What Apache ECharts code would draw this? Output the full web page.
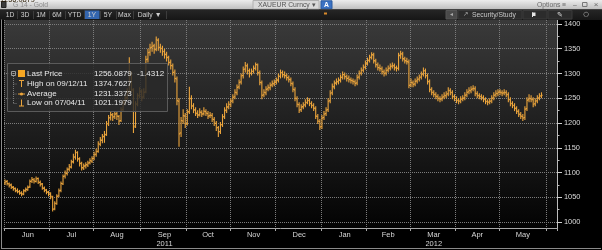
<!DOCTYPE html>
<html><head><meta charset="utf-8">
<script src="https://cdn.jsdelivr.net/npm/echarts@6/dist/echarts.min.js"></script>
<style>html,body{margin:0;padding:0;background:#000;overflow:hidden}#c{width:602px;height:250px}</style>
</head><body><div id="c"></div>
<script>
// ---------------- DATA ----------------
const startDate = '2011-06-01';
const endDate = '2012-06-07';      // axis runs a few days past the last bar
const open = [
 1079,1082,1077,1075,1070,1068,1063,1062,1058,1056,1064,1065,1071,1083,1085,1082,1088,1080,1077,1068,1065,1060,
 1056,1050,1027,1037,1053,1064,1077,1093,1098,1107,1111,1122,1131,1140,1127,1119,1109,1114,1115,1120,1123,
 1129,1137,1143,1157,1165,1173,1177,1199,1211,1216,1213,1219,1213,1205,1227,1242,1251,1263,1298,1266,1194,1239,1256,
 1263,1253,1263,1329,1343,1353,1356,1349,1367,1353,1351,1345,1339,1333,1323,1315,1303,1289,1244,1180,1204,1214,
 1199,1223,1249,1234,1227,1219,1217,1221,1219,1223,1219,1215,1215,1207,1199,1191,1183,1197,1213,1225,1233,
 1237,1245,1253,1261,1273,1283,1296,1309,1315,1305,1301,1305,1311,1317,1301,1281,1257,1261,1269,1271,1277,1279,
 1283,1287,1295,1301,1297,1295,1291,1287,1279,1267,1249,1237,1227,1233,1237,1241,1245,1239,1235,1229,1213,1203,
 1193,1211,1219,1227,1245,1261,1273,1281,1283,1287,1293,1297,1293,1291,1287,1285,1283,1281,1293,1301,1307,1313,
 1321,1327,1333,1337,1325,1317,1311,1309,1303,1301,1307,1311,1315,1315,1311,1311,1337,1339,1329,1325,1323,
 1277,1281,1279,1285,1289,1293,1299,1305,1295,1283,1267,1261,1257,1253,1249,1249,1253,1255,1259,1265,1261,1253,
 1249,1245,1245,1249,1251,1257,1263,1265,1269,1269,1259,1255,1253,1251,1247,1243,1243,1245,1251,1257,1259,
 1263,1261,1261,1261,1257,1247,1239,1235,1229,1223,1217,1213,1211,1229,1247,1249,1247,1239,1245,1251,1255
];
const high = [
 1086,1085,1080,1078,1073,1070,1068,1065,1062,1066,1070,1074,1086,1091,1089,1092,1090,1084,1079,1072,1067,1063,
 1060,1053,1042,1056,1068,1082,1096,1104,1110,1117,1126,1138,1146,1143,1131,1122,1118,1121,1124,1129,1133,
 1142,1148,1163,1172,1178,1184,1204,1216,1224,1220,1224,1222,1216,1232,1246,1256,1270,1333,1304,1270,1244,1260,1272,
 1268,1270,1336,1350,1360,1364,1360,1374.76,1371,1360,1356,1350,1344,1336,1328,1320,1308,1294,1250,1212,1228,1220,
 1228,1273,1256,1240,1232,1226,1230,1226,1232,1228,1224,1222,1220,1212,1204,1194,1202,1218,1232,1240,1244,
 1250,1258,1268,1278,1288,1300,1314,1323,1320,1310,1310,1316,1322,1320,1306,1286,1268,1274,1278,1282,1286,1288,
 1292,1300,1308,1306,1304,1300,1296,1292,1284,1272,1254,1242,1238,1242,1248,1252,1250,1244,1240,1234,1218,1208,
 1216,1224,1232,1250,1266,1280,1286,1290,1292,1298,1304,1302,1298,1296,1292,1290,1288,1298,1306,1312,1318,1326,
 1332,1338,1343,1342,1330,1322,1318,1314,1308,1312,1316,1320,1322,1320,1316,1342,1346,1344,1334,1332,1328,
 1290,1286,1290,1294,1298,1304,1312,1310,1300,1288,1272,1266,1262,1258,1254,1258,1262,1264,1272,1270,1266,1258,
 1254,1250,1254,1256,1262,1268,1272,1274,1276,1274,1264,1260,1258,1256,1252,1248,1250,1256,1262,1266,1268,
 1268,1266,1268,1266,1262,1252,1244,1240,1234,1228,1222,1218,1234,1252,1258,1256,1252,1250,1256,1260,1262
];
const low = [
 1075,1074,1070,1067,1063,1060,1058,1055,1052,1054,1060,1063,1069,1079,1078,1080,1077,1072,1065,1060,1056,1052,
 1046,1021.2,1024,1035,1050,1060,1075,1088,1094,1102,1108,1118,1126,1122,1112,1104,1105,1108,1111,1116,1119,
 1125,1132,1140,1153,1159,1160,1174,1194,1205,1204,1208,1206,1196,1202,1222,1236,1247,1258,1262,1180,1190,1234,1250,
 1244,1249,1260,1322,1336,1344,1340,1345,1346,1342,1336,1330,1324,1316,1308,1296,1282,1236,1152,1172,1198,1190,
 1195,1218,1228,1220,1214,1210,1213,1212,1215,1214,1208,1210,1202,1194,1184,1172,1178,1192,1208,1220,1228,
 1232,1240,1248,1256,1268,1278,1290,1302,1298,1292,1296,1300,1306,1296,1276,1248,1252,1256,1264,1266,1272,1274,
 1278,1282,1290,1292,1290,1286,1282,1274,1262,1244,1232,1220,1222,1228,1232,1238,1234,1230,1224,1208,1198,1186,
 1188,1206,1214,1222,1240,1256,1268,1276,1278,1282,1288,1288,1284,1282,1280,1278,1274,1276,1288,1296,1302,1308,
 1316,1322,1328,1320,1312,1306,1304,1298,1294,1296,1302,1306,1310,1306,1304,1306,1330,1324,1320,1318,1270,
 1272,1272,1274,1280,1284,1288,1294,1290,1278,1262,1256,1252,1248,1244,1242,1244,1248,1250,1254,1256,1248,1244,
 1240,1238,1240,1244,1246,1252,1258,1260,1264,1254,1250,1248,1246,1242,1238,1236,1238,1240,1246,1252,1254,
 1256,1254,1256,1252,1242,1234,1230,1224,1218,1212,1208,1204,1206,1224,1242,1242,1232,1234,1240,1246,1250
];
const close = [
 1081,1078,1074,1071,1067,1064,1061,1059,1057,1063,1066,1070,1082,1086,1083,1087,1081,1076,1069,1064,1061,1057,
 1052,1026,1038,1052,1063,1078,1092,1099,1106,1112,1121,1132,1141,1128,1118,1110,1113,1116,1119,1124,1128,
 1136,1142,1158,1166,1172,1176,1198,1210,1217,1212,1218,1214,1204,1226,1241,1250,1262,1300,1268,1192,1238,1255,1264,
 1252,1262,1328,1342,1352,1355,1348,1368,1352,1350,1344,1338,1332,1322,1316,1302,1290,1245,1178,1205,1215,1198,
 1222,1250,1235,1226,1220,1216,1222,1218,1224,1220,1214,1216,1208,1200,1190,1182,1196,1212,1226,1232,1238,
 1244,1252,1262,1272,1282,1295,1308,1316,1306,1300,1304,1310,1318,1302,1282,1256,1262,1268,1272,1276,1280,1282,
 1286,1294,1302,1298,1296,1292,1288,1280,1268,1250,1238,1226,1232,1236,1242,1246,1240,1236,1230,1214,1204,1192,
 1210,1218,1226,1244,1260,1274,1280,1284,1286,1292,1298,1294,1290,1288,1286,1284,1280,1292,1300,1306,1312,1320,
 1326,1332,1338,1326,1318,1312,1310,1304,1300,1306,1310,1314,1316,1312,1310,1336,1340,1330,1326,1324,1276,
 1282,1278,1284,1288,1292,1298,1306,1296,1284,1268,1262,1258,1254,1250,1248,1252,1256,1258,1266,1262,1254,1250,
 1246,1244,1248,1250,1256,1262,1266,1268,1270,1260,1256,1254,1252,1248,1244,1242,1244,1250,1256,1260,1262,
 1262,1260,1262,1258,1248,1240,1236,1230,1224,1218,1214,1210,1228,1246,1250,1248,1238,1244,1250,1254,1256.09
];
const monthNames = ['Jan','Feb','Mar','Apr','May','Jun','Jul','Aug','Sep','Oct','Nov','Dec'];
const labelledMonths = ['2011-06','2011-07','2011-08','2011-09','2011-10','2011-11','2011-12',
                        '2012-01','2012-02','2012-03','2012-04','2012-05'];
const yearLabels = {'2011-09':'2011','2012-03':'2012'};
const yTickValues = [1000,1050,1100,1150,1200,1250,1300,1350,1400];
const yMinorTickValues = [1025,1075,1125,1175,1225,1275,1325,1375];
const periodButtons = ['1D','3D','1M','6M','YTD','1Y','5Y','Max','Daily \u25BC'];
const activeButton = '1Y';
const titleText = 'G 14 - Gold';
const tickerText = 'XAUEUR Curncy \u25BE';
const lastPriceText = '1256.0879';
const legendRows = [
  {label:'Last Price', value:'1256.0879', change:'-1.4312', icon:'square'},
  {label:'High on 09/12/11', value:'1374.7627', change:'', icon:'high'},
  {label:'Average', value:'1231.3373', change:'', icon:'avg'},
  {label:'Low on 07/04/11', value:'1021.1979', change:'', icon:'low'}
];

// ---------------- BUILD ----------------
const dates = [];
for (let d = new Date(startDate + 'T00:00:00Z'); d <= new Date(endDate + 'T00:00:00Z'); d.setUTCDate(d.getUTCDate() + 1)) {
  const wd = d.getUTCDay();
  if (wd === 0 || wd === 6) continue;
  dates.push(d.toISOString().slice(0, 10));
}
const monthStart = new Set();
const monthIdx = {};
dates.forEach((ds, i) => {
  const k = ds.slice(0, 7);
  if (!monthIdx[k]) { monthIdx[k] = []; monthStart.add(i); }
  monthIdx[k].push(i);
});
const labelAt = {};
labelledMonths.forEach(k => {
  const arr = monthIdx[k];
  const mid = arr[Math.floor(arr.length / 2)];
  const m = monthNames[parseInt(k.slice(5, 7), 10) - 1];
  labelAt[mid] = yearLabels[k] ? m + '\n' + yearLabels[k] : m;
});
const ohlc = close.map((c, i) => [i, open[i], high[i], low[i], c]);

const FONT = 'Liberation Sans, Arial, sans-serif';
const BAR = '#eca53c';
const GRIDC = '#7c7c7c';
const chart = echarts.init(document.getElementById('c'), null, {renderer: 'canvas'});

const option = {
  animation: false,
  backgroundColor: '#000',
  grid: {
    left: 4, right: 45, top: 20, bottom: 22, show: true, borderWidth: 0,
    containLabel: false, outerBoundsMode: 'none',
    backgroundColor: {type: 'linear', x: 0, y: 0, x2: 0, y2: 1,
      colorStops: [{offset: 0, color: '#3a3a3a'}, {offset: 0.5, color: '#1f1f1f'}, {offset: 1, color: '#030303'}]}
  },
  xAxis: {
    type: 'category', data: dates, boundaryGap: true,
    axisLine: {show: true, lineStyle: {color: '#a8a8a8', width: 1}},
    axisTick: {show: true, interval: (i) => monthStart.has(i), length: 3, lineStyle: {color: '#a8a8a8'}},
    axisLabel: {
      interval: (i) => labelAt[i] !== undefined,
      formatter: (v, i) => labelAt[i] || '',
      color: '#d6d6d6', fontSize: 7.5, fontFamily: FONT, margin: 3, lineHeight: 8.5
    },
    splitLine: {show: true, interval: (i) => monthStart.has(i), lineStyle: {color: GRIDC, type: [1, 1], width: 1}}
  },
  yAxis: [{
    type: 'value', position: 'right', min: 988, max: 1408,
    axisLine: {show: true, lineStyle: {color: '#bdbdbd'}},
    axisTick: {show: true, customValues: yTickValues, length: 5, lineStyle: {color: '#d0d0d0'}},
    axisLabel: {customValues: yTickValues, formatter: (v) => String(v), color: '#dcdcdc', fontSize: 7.4, fontFamily: FONT, margin: 7},
    splitLine: {show: false}
  }, {
    type: 'value', position: 'left', offset: -553, min: 988, max: 1408,
    axisLine: {show: false},
    axisTick: {show: true, inside: true, customValues: yMinorTickValues, length: 2.5, lineStyle: {color: '#bdbdbd'}},
    axisLabel: {show: false}, splitLine: {show: false}
  }],
  series: [{
    type: 'custom', z: 3, clip: true,
    data: ohlc,
    encode: {x: 0, y: [1, 2, 3, 4]},
    renderItem: (params, api) => {
      const x = api.value(0);
      const pO = api.coord([x, api.value(1)]);
      const pH = api.coord([x, api.value(2)]);
      const pL = api.coord([x, api.value(3)]);
      const pC = api.coord([x, api.value(4)]);
      const hw = api.size([1, 0])[0] * 0.6;
      return {type: 'group', children: [
        {type: 'line', shape: {x1: pH[0], y1: pH[1], x2: pL[0], y2: pL[1]}, style: {stroke: BAR, lineWidth: 1.1, fill: null}},
        {type: 'line', shape: {x1: pO[0] - hw, y1: pO[1], x2: pO[0], y2: pO[1]}, style: {stroke: BAR, lineWidth: 1.1, fill: null}},
        {type: 'line', shape: {x1: pC[0], y1: pC[1], x2: pC[0] + hw, y2: pC[1]}, style: {stroke: BAR, lineWidth: 1.1, fill: null}}
      ]};
    },
    markLine: {
      silent: true, z: 1, symbol: ['none', 'none'], label: {show: false}, animation: false,
      lineStyle: {color: GRIDC, type: [1, 1], width: 1},
      emphasis: {disabled: true},
      data: yTickValues.map(v => ({yAxis: v}))
    }
  }]
};
chart.setOption(option);

// ---------------- DECORATION ----------------
const g = [];
function txt(x, y, s, size, fill, extra) {
  return Object.assign({type: 'text', x: x, y: y, z: 100,
    style: Object.assign({text: s, fill: fill, fontSize: size, fontFamily: FONT, verticalAlign: 'middle', align: 'left'}, extra || {})});
}
function ln(x1, y1, x2, y2, stroke, w, dash) {
  return {type: 'line', z: 100, shape: {x1, y1, x2, y2}, style: {stroke, lineWidth: w || 1, lineDash: dash || null}};
}
function rect(x, y, w, h, fill, stroke) {
  return {type: 'rect', z: 99, shape: {x, y, width: w, height: h}, style: {fill: fill, stroke: stroke || null, lineWidth: 1}};
}
// title bar
g.push(rect(0, 0, 602, 9.5, {type: 'linear', x: 0, y: 0, x2: 0, y2: 1,
  colorStops: [{offset: 0, color: '#ececec'}, {offset: 1, color: '#bdbdbd'}]}));
g.push(rect(1.5, 1.5, 4.5, 6, '#3a3a3a', '#222'));
g.push(txt(13, 5, titleText, 6.8, '#8a8a8a'));
g.push(rect(253, 0.5, 66, 8.5, '#d9d9d9', '#b0b0b0'));
g.push(txt(258, 5, tickerText, 6.8, '#555'));
g.push(rect(321, 0.8, 11, 8, '#3b72c4', '#2a5aa0'));
g.push(txt(326.5, 5, 'A', 6.8, '#fff', {align: 'center', fontWeight: 'bold'}));
g.push(txt(537, 5, 'Options \u2261', 6.8, '#6a6a6a'));
g.push(txt(575, 5, '\u2013', 6.8, '#6a6a6a', {align: 'center'}));
g.push(rect(582.5, 2.5, 4.5, 4, null, '#777'));
g.push(txt(596, 5, '\u00D7', 8, '#6a6a6a', {align: 'center'}));
// toolbar row
g.push(rect(0, 9.5, 602, 10.5, {type: 'linear', x: 0, y: 0, x2: 0, y2: 1,
  colorStops: [{offset: 0, color: '#262626'}, {offset: 1, color: '#161616'}]}));
const btnX = [3, 17, 33, 49, 65, 84, 100, 116, 133, 166];
periodButtons.forEach((b, i) => {
  const x0 = btnX[i], x1 = btnX[i + 1];
  if (b === activeButton) g.push(rect(x0 + 0.5, 10.5, x1 - x0 - 1, 8.5, '#3466b0', null));
  g.push(txt((x0 + x1) / 2, 14.7, b, 6.8, '#cfcfcf', {align: 'center'}));
  g.push(ln(x1 + 0.5, 11, x1 + 0.5, 19, '#3c3c3c'));
});
g.push(rect(324, 12.5, 3, 2, '#d98a2b', null));
g.push(rect(446, 10.5, 11, 8.5, '#4a4a4a', '#555'));
g.push(txt(451.5, 14.7, '\u25C2', 6, '#aaa', {align: 'center', fontFamily: 'DejaVu Sans'}));
g.push(rect(458, 10.5, 64, 8.5, '#2c2c2c', '#3a3a3a'));
g.push(txt(463, 14.7, '\u2197', 6.5, '#bbb', {fontFamily: 'DejaVu Sans'}));
g.push(txt(472, 14.7, 'Security/Study', 6.8, '#c8c8c8'));
g.push(rect(523, 10.5, 24, 8.5, '#2c2c2c', '#3a3a3a'));
g.push(rect(532, 12.5, 3.5, 3.5, '#e6e6e6', null));
g.push(ln(532.5, 12.5, 532.5, 17, '#e6e6e6'));
g.push(rect(548, 10.5, 24, 8.5, '#2c2c2c', '#3a3a3a'));
g.push(txt(560, 14.7, '\u270E', 7, '#ddd', {align: 'center', fontFamily: 'DejaVu Sans'}));
g.push(txt(586, 14.7, '\u25CB', 6.5, '#ccc', {align: 'center', fontFamily: 'DejaVu Sans'}));

// frame
g.push(ln(1.5, 19.5, 1.5, 249, '#8a8a8a'));
g.push(ln(1, 248.5, 601, 248.5, '#8a8a8a'));
// year separator in the label band (Jan 2012)
const janIdx = monthIdx['2012-01'][0];
const band = chart.convertToPixel({xAxisIndex: 0}, janIdx + 1)[0] - chart.convertToPixel({xAxisIndex: 0}, janIdx)[0];
const janX = Math.round(chart.convertToPixel({xAxisIndex: 0}, janIdx)[0] - band / 2) + 0.5;
const axisY = chart.convertToPixel({yAxisIndex: 0}, 988)[1];
g.push(ln(janX, axisY, janX, 248.5, '#8a8a8a'));

// legend box
const LX = 7, LY = 63;
g.push({type: 'rect', z: 98, shape: {x: LX + 0.5, y: LY + 0.5, width: 160, height: 48},
  style: {fill: 'rgba(42,42,42,0.82)', stroke: '#5a5a5a', lineWidth: 1}});
const rowY = [73.5, 83.5, 93.5, 103];
g.push(rect(11.5, 71.5, 4, 4, null, '#9a9a9a'));
g.push(ln(12.5, 73.5, 14.5, 73.5, '#9a9a9a'));
g.push(ln(13.5, 76, 13.5, rowY[3], '#7a7a7a', 1, [1, 1]));
legendRows.forEach((r, i) => {
  const y = rowY[i];
  if (i > 0) g.push(ln(13.5, y + 0.5, 17, y + 0.5, '#7a7a7a', 1, [1, 1]));
  if (r.icon === 'square') g.push(rect(18, y - 3.5, 7, 7, '#f5a623', null));
  if (r.icon === 'high') { g.push(ln(19, y - 3, 24, y - 3, BAR)); g.push(ln(21.5, y - 3, 21.5, y + 3.5, BAR)); }
  if (r.icon === 'avg') { g.push(ln(18, y + 0.5, 25, y + 0.5, BAR)); g.push({type: 'circle', z: 100, shape: {cx: 21.5, cy: y + 0.5, r: 1.6}, style: {fill: BAR}}); }
  if (r.icon === 'low') { g.push(ln(21.5, y - 3.5, 21.5, y + 3, BAR)); g.push(ln(19, y + 3, 24, y + 3, BAR)); }
  g.push(txt(27, y, r.label, 8, '#e8e8e8'));
  g.push(txt(94, y, r.value, 8, '#e8e8e8'));
  if (r.change) g.push(txt(137, y, r.change, 8, '#e8e8e8'));
});

// last price tag on the axis
const lastY = chart.convertToPixel({yAxisIndex: 0}, close[close.length - 1])[1];
const axX = 557;
g.push({type: 'polygon', z: 101, shape: {points: [[axX, lastY], [axX + 4, lastY - 4.5], [601, lastY - 4.5], [601, lastY + 4.5], [axX + 4, lastY + 4.5]]},
  style: {fill: '#f2a73c'}});
g.push(Object.assign(txt(562, lastY + 0.3, lastPriceText, 7.4, '#2a1a00'), {z: 102}));

chart.setOption({graphic: {elements: g}});
</script>
</body></html>
